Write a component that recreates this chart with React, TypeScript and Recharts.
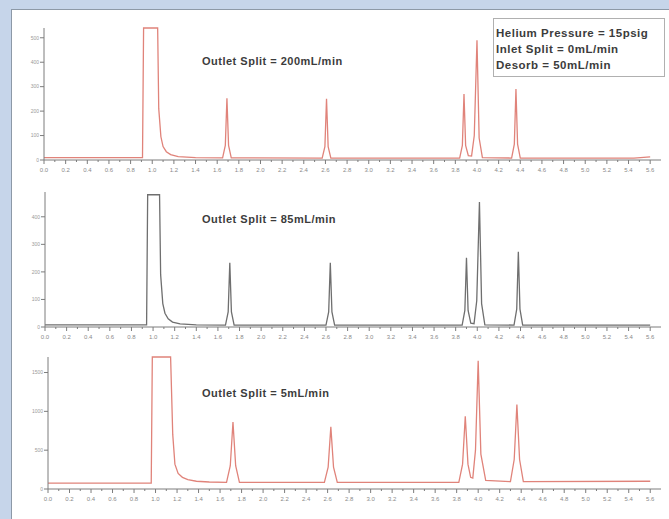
import React from 'react';
import { LineChart, Line, XAxis, YAxis } from 'recharts';

const RED = '#e0837a';
const GREY_LINE = '#6f6f6f';
const AXIS = '#7c7c7c';
const TEXT = '#3c3c3c';

// retention time axis (min)
const xTicks = [
  0, 0.1, 0.2, 0.3, 0.4, 0.5, 0.6, 0.7, 0.8, 0.9, 1.0, 1.1, 1.2, 1.3, 1.4, 1.5, 1.6, 1.7, 1.8, 1.9,
  2.0, 2.1, 2.2, 2.3, 2.4, 2.5, 2.6, 2.7, 2.8, 2.9, 3.0, 3.1, 3.2, 3.3, 3.4, 3.5, 3.6, 3.7, 3.8, 3.9,
  4.0, 4.1, 4.2, 4.3, 4.4, 4.5, 4.6, 4.7, 4.8, 4.9, 5.0, 5.1, 5.2, 5.3, 5.4, 5.5, 5.6,
];
const xLabels = [
  '0.0', '0.2', '0.4', '0.6', '0.8', '1.0', '1.2', '1.4', '1.6', '1.8', '2.0', '2.2', '2.4', '2.6', '2.8',
  '3.0', '3.2', '3.4', '3.6', '3.8', '4.0', '4.2', '4.4', '4.6', '4.8', '5.0', '5.2', '5.4', '5.6',
];

// Outlet split 200 mL/min
const t200 = [0, 0.91, 0.92, 1.05, 1.06, 1.08, 1.1, 1.13, 1.17, 1.24, 1.4, 1.65, 1.675, 1.69, 1.705, 1.73, 2.57, 2.595, 2.61, 2.625, 2.65, 3.84, 3.865, 3.88, 3.895, 3.92, 3.95, 3.975, 4.0, 4.02, 4.05, 4.32, 4.345, 4.36, 4.375, 4.4, 5.45, 5.6];
const s200 = [10, 10, 540, 540, 210, 95, 55, 34, 22, 14, 10, 9, 60, 253, 60, 9, 8, 55, 250, 55, 8, 8, 60, 270, 60, 18, 16, 100, 490, 90, 10, 8, 65, 290, 65, 8, 8, 13];
const y200 = [0, 100, 200, 300, 400, 500];

// Outlet split 85 mL/min
const t85 = [0, 0.94, 0.95, 1.06, 1.07, 1.09, 1.11, 1.14, 1.18, 1.25, 1.4, 1.67, 1.695, 1.71, 1.725, 1.75, 2.6, 2.625, 2.64, 2.655, 2.68, 3.86, 3.885, 3.9, 3.915, 3.94, 3.97, 3.995, 4.02, 4.04, 4.07, 4.34, 4.365, 4.38, 4.395, 4.42, 5.6];
const s85 = [8, 8, 480, 480, 190, 85, 50, 30, 18, 11, 8, 7, 55, 233, 55, 7, 7, 55, 233, 55, 7, 7, 60, 251, 60, 14, 12, 95, 454, 85, 8, 7, 65, 273, 65, 7, 7];
const y85 = [0, 100, 200, 300, 400];

// Outlet split 5 mL/min
const t5 = [0, 0.96, 0.97, 1.14, 1.16, 1.18, 1.21, 1.25, 1.3, 1.38, 1.5, 1.66, 1.695, 1.72, 1.745, 1.78, 2.57, 2.605, 2.63, 2.655, 2.69, 3.82, 3.855, 3.88, 3.905, 3.93, 3.95, 3.975, 4.0, 4.025, 4.07, 4.3, 4.335, 4.36, 4.385, 4.42, 5.6];
const s5 = [75, 75, 1700, 1700, 700, 320, 200, 150, 120, 100, 90, 85, 300, 862, 300, 85, 85, 280, 800, 280, 85, 85, 320, 937, 320, 150, 140, 500, 1650, 450, 110, 95, 380, 1087, 380, 95, 100];
const y5 = [0, 500, 1000, 1500];

const rows = (t: number[], s: number[]) => t.map((x, i) => ({ t: x, v: s[i] }));

function XTick(props: any) {
  const { x, y, index } = props;
  const major = index % 2 === 0;
  return (
    <g>
      <line x1={x} x2={x} y1={y} y2={y + (major ? 4 : 2)} stroke={AXIS} strokeWidth={1} />
      {major && (
        <text x={x} y={y + 12} textAnchor="middle" fontSize={6} fill="#8a8a8a" fontFamily="Liberation Sans, Arial">
          {xLabels[index / 2]}
        </text>
      )}
    </g>
  );
}

interface TraceProps {
  top: number;
  height: number;
  marginTop: number;
  yWidth: number;
  xHeight: number;
  data: { t: number; v: number }[];
  color: string;
  yMax: number;
  yTicks: number[];
}

function Trace({ top, height, marginTop, yWidth, xHeight, data, color, yMax, yTicks }: TraceProps) {
  return (
    <div style={{ position: 'absolute', left: 12, top }}>
      <LineChart width={657} height={height} data={data} margin={{ top: marginTop, right: 8, left: 0, bottom: 0 }}>
        <XAxis
          dataKey="t"
          type="number"
          domain={[0, 5.7]}
          ticks={xTicks}
          interval={0}
          tickSize={0}
          tickMargin={0}
          tickLine={false}
          tick={<XTick />}
          height={xHeight}
          stroke={AXIS}
        />
        <YAxis
          type="number"
          domain={[0, yMax]}
          ticks={yTicks}
          interval={0}
          width={yWidth}
          tickSize={4}
          tickMargin={1}
          stroke={AXIS}
          tick={{ fontSize: 5, fill: '#9a9a9a', fontFamily: 'Liberation Sans, Arial' }}
        />
        <Line
          type="linear"
          dataKey="v"
          stroke={color}
          strokeWidth={1.3}
          dot={false}
          isAnimationActive={false}
        />
      </LineChart>
    </div>
  );
}

const titleStyle: React.CSSProperties = {
  position: 'absolute',
  left: 202,
  fontFamily: 'Liberation Sans, Arial, sans-serif',
  fontWeight: 'bold',
  fontSize: 11,
  lineHeight: '16px',
  letterSpacing: 0.5,
  color: TEXT,
  whiteSpace: 'nowrap',
};

export default function App() {
  return (
    <div style={{ position: 'absolute', left: 0, top: 0, width: 669, height: 519, background: '#c6d5ea', overflow: 'hidden' }}>
      <div
        style={{
          position: 'absolute',
          left: 11,
          top: 9,
          width: 660,
          height: 512,
          background: '#fff',
          borderTop: '1px solid #8d99a7',
          borderLeft: '1px solid #8d99a7',
        }}
      />
      <Trace top={10} height={166} marginTop={18} yWidth={32} xHeight={16} data={rows(t200, s200)} color={RED} yMax={540} yTicks={y200} />
      <Trace top={176} height={167} marginTop={16} yWidth={33} xHeight={16} data={rows(t85, s85)} color={GREY_LINE} yMax={490} yTicks={y85} />
      <Trace top={343} height={164} marginTop={14} yWidth={36} xHeight={18} data={rows(t5, s5)} color={RED} yMax={1700} yTicks={y5} />

      <div style={{ ...titleStyle, top: 53 }}>Outlet Split = 200mL/min</div>
      <div style={{ ...titleStyle, top: 211 }}>Outlet Split = 85mL/min</div>
      <div style={{ ...titleStyle, top: 385 }}>Outlet Split = 5mL/min</div>

      <div
        style={{
          position: 'absolute',
          left: 493,
          top: 18,
          width: 170,
          height: 57,
          border: '1px solid #b0b0b0',
          background: '#fff',
          boxSizing: 'content-box',
        }}
      >
        <div style={{ ...titleStyle, left: 2, top: 6, fontSize: 11.5 }}>Helium Pressure = 15psig</div>
        <div style={{ ...titleStyle, left: 2, top: 22, fontSize: 11.5 }}>Inlet Split = 0mL/min</div>
        <div style={{ ...titleStyle, left: 2, top: 38, fontSize: 11.5 }}>Desorb = 50mL/min</div>
      </div>
    </div>
  );
}
